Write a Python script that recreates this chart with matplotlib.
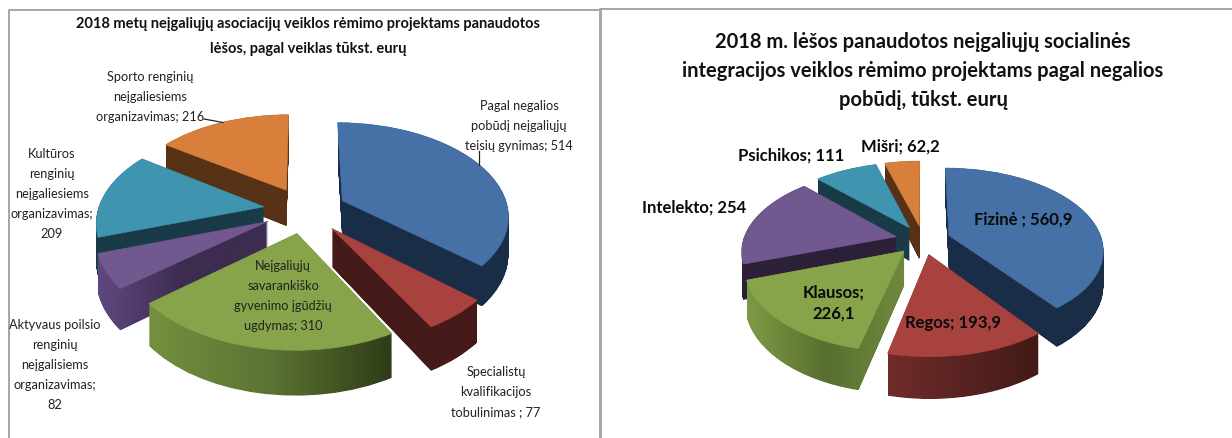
import numpy as np
import matplotlib
matplotlib.use('Agg')
import matplotlib.pyplot as plt
from matplotlib.colors import LinearSegmentedColormap
from matplotlib.path import Path
from matplotlib.transforms import Transform, IdentityTransform

FONT = ['Lato', 'DejaVu Sans']

# left chart
left_title = "2018 metų neįgaliųjų asociacijų veiklos rėmimo projektams panaudotos\nlėšos, pagal veiklas tūkst. eurų"
left_values = [514, 77, 310, 82, 209, 216]
left_labels = ["Pagal negalios\npobūdį neįgaliųjų\nteisių gynimas; 514",
               "Specialistų\nkvalifikacijos\ntobulinimas ; 77",
               "Neįgaliųjų\nsavarankiško\ngyvenimo įgūdžių\nugdymas; 310",
               "Aktyvaus poilsio\nrenginių\nneįgalisiems\norganizavimas;\n82",
               "Kultūros\nrenginių\nneįgaliesiems\norganizavimas;\n209",
               "Sporto renginių\nneįgaliesiems\norganizavimas; 216"]

# right chart
right_title = "2018 m. lėšos panaudotos neįgaliųjų socialinės\nintegracijos veiklos rėmimo projektams pagal negalios\npobūdį, tūkst. eurų"
right_values = [560.9, 193.9, 226.1, 254, 111, 62.2]
right_labels = ["Fizinė ; 560,9", "Regos; 193,9", "Klausos;\n226,1",
                "Intelekto; 254", "Psichikos; 111", "Mišri; 62,2"]

top_colors = ['#4571a7', '#a8423f', '#87a44a', '#71588f', '#3f95b0', '#d8803b']
left_sides = [['#1a2d47', '#1a2d47'], ['#451a18', '#451a18'],
              ['#74903f', '#5c7333', '#2f3c16'], ['#5f4880', '#3c2c50', '#3c2c50'],
              ['#193b48', '#193b48'], ['#573216', '#573216']]
right_sides = [['#1a2d47', '#1a2d47'], ['#6f2c2a', '#421a17'],
               ['#7f9a46', '#586f2f', '#6f8a3f'], ['#2c2038', '#2c2038'],
               ['#193b48', '#193b48'], ['#573216', '#573216']]


class Tilt(Transform):
    # unit disc -> pixels, the front of the pie comes out bigger
    input_dims = 2
    output_dims = 2
    is_separable = False

    def __init__(self, cx, cy, rx, ry, k, dz=0):
        Transform.__init__(self)
        self.p = (cx, cy, rx, ry, k, dz)

    def transform_non_affine(self, values):
        cx, cy, rx, ry, k, dz = self.p
        values = np.asarray(values)
        s = 1.0 / (1 + k * values[:, 1])
        return np.column_stack([cx + rx * values[:, 0] * s,
                                cy - ry * values[:, 1] * s + dz * s])


def fix_axes(ax):
    ax.set_aspect('auto')
    ax.set_xlim(0, 1232)
    ax.set_ylim(439, 0)


def pie3d(ax, values, sides, order, cx, cy, rx, ry, k, depth, explode):
    wedges, _ = ax.pie(values, explode=[explode] * len(values), startangle=90,
                       counterclock=False, colors=top_colors,
                       wedgeprops={'linewidth': 0})
    fix_axes(ax)
    for i, w in enumerate(wedges):
        base = order.index(i) * 10 + 10
        w.set_transform(Tilt(cx, cy, rx, ry, k) + ax.transData)
        w.set_zorder(base + 1)
        w.set_edgecolor(top_colors[i])
        w.set_linewidth(0.4)

        # side wall: the wedge pushed down layer by layer, gradient clipped to it
        parts = [Tilt(cx, cy, rx, ry, k, dz).transform_path(w.get_path())
                 for dz in np.linspace(0, depth, 60)]
        side = Path.make_compound_path(*parts)
        box = side.get_extents()
        cmap = LinearSegmentedColormap.from_list('side', sides[i])
        im = ax.imshow(np.linspace(0, 1, 256)[None, :], cmap=cmap, aspect='auto',
                       extent=(box.x0, box.x1, box.y1, box.y0),
                       interpolation='bilinear', zorder=base)
        disp = ax.transData.transform_path(side)
        im.set_clip_path(disp, IdentityTransform())


fig = plt.figure(figsize=(12.32, 4.39), dpi=100)
ax = fig.add_axes([0, 0, 1, 1])
ax.set_autoscale_on(False)
fix_axes(ax)

pie3d(ax, left_values, left_sides, [5, 4, 3, 0, 1, 2], 305, 211, 166, 92, 0.147, 37, 0.25)
pie3d(ax, right_values, right_sides, [5, 4, 3, 0, 2, 1], 923, 241, 153, 80, 0.165, 34, 0.18)
fix_axes(ax)
ax.axis('off')

# panel frames
ax.plot([8.5, 8.5, 601, 601], [439, 11, 11, 439], color='#a6a6a6', lw=1.4, zorder=1)
ax.plot([600, 600, 1232], [439, 10, 10], color='#a6a6a6', lw=1.4, zorder=1)

# leader lines
ax.plot([204, 223], [120, 123.5], color='#222222', lw=0.9, zorder=90)
ax.plot([479, 479], [152, 166], color='#222222', lw=0.9, zorder=90)

ax.text(308, 36.5, left_title, ha='center', va='center', family=FONT, fontsize=10.5,
        fontweight='bold', color='#111111', linespacing=1.95)
ax.text(923, 71, right_title, ha='center', va='center', family=FONT, fontsize=14.5,
        fontweight='bold', color='#111111', linespacing=1.58)

left_pos = [(519, 126), (496, 392), (283, 296), (55, 365), (52, 194), (150, 97)]
for s, (x, y) in zip(left_labels, left_pos):
    ax.text(x, y, s, ha='center', va='center', family=FONT, fontsize=9.2,
            color='#222222', linespacing=1.78, zorder=100)

right_pos = [(1023, 220), (953, 323), (834, 303), (694, 208), (791, 156), (900, 147)]
for s, (x, y) in zip(right_labels, right_pos):
    ax.text(x, y, s, ha='center', va='center', family=FONT, fontsize=12,
            fontweight='bold', color='#0a0a0a', linespacing=1.4, zorder=100)

fig.savefig('out.png', dpi=100)
